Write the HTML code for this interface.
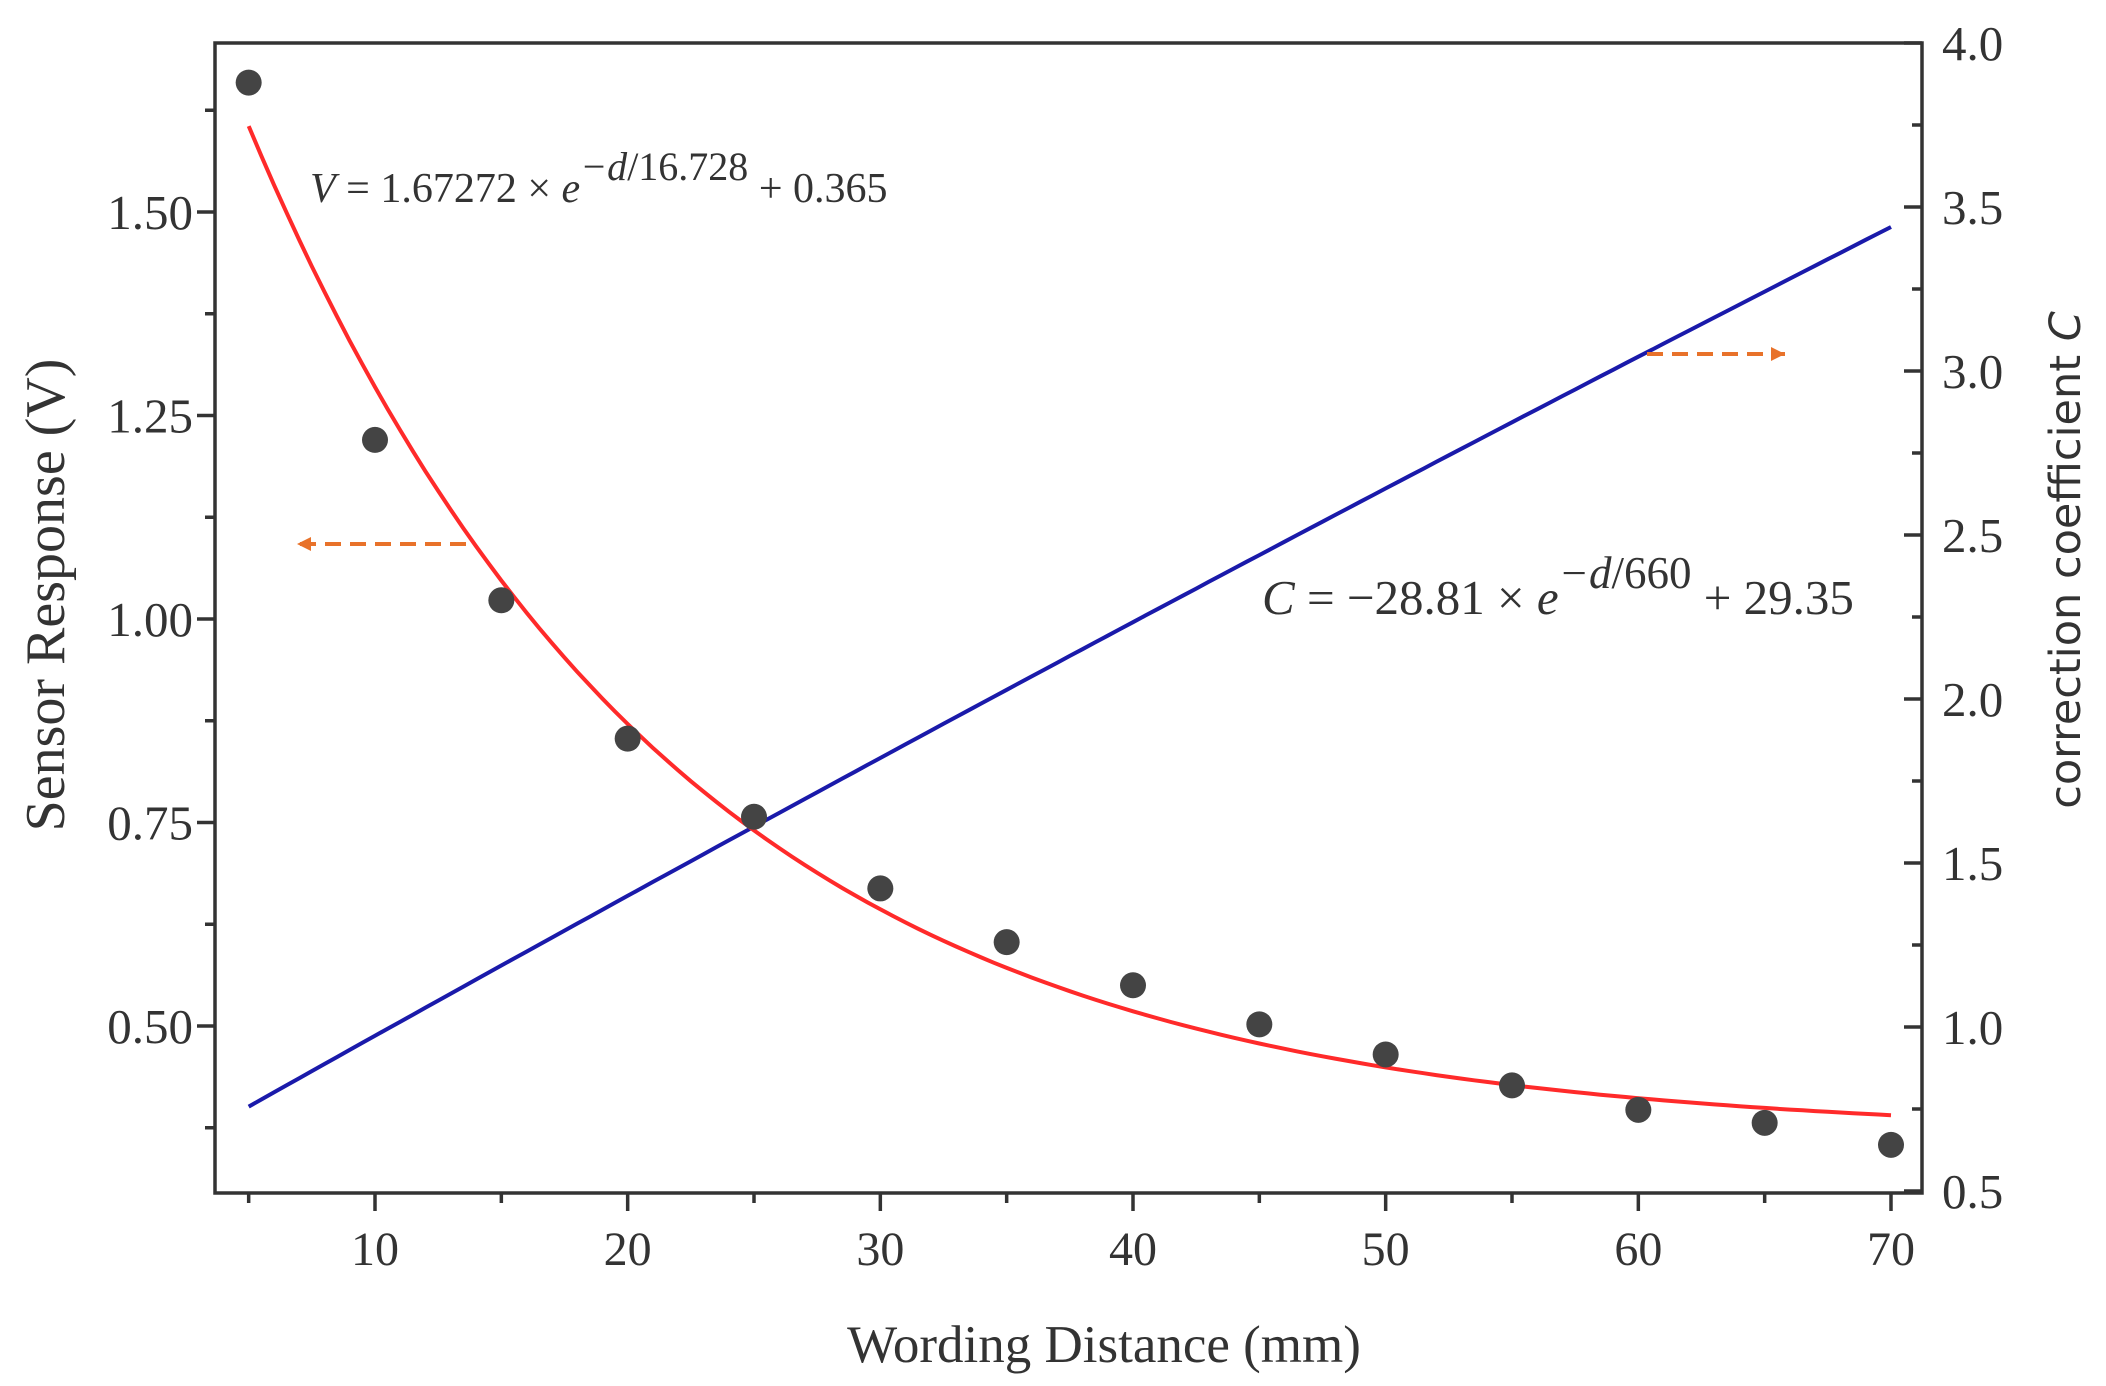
<!DOCTYPE html>
<html><head><meta charset="utf-8"><style>
html,body{margin:0;padding:0;background:#fff;}
svg{display:block;}
text{font-family:"Liberation Serif",serif;fill:#333;}
</style></head><body>
<svg id="chart" width="2106" height="1386" viewBox="0 0 2106 1386" xmlns="http://www.w3.org/2000/svg">
</svg>
<script>
const distances=[5,10,15,20,25,30,35,40,45,50,55,60,65,70];
const responses=[1.659,1.220,1.023,0.853,0.757,0.669,0.603,0.550,0.502,0.465,0.427,0.397,0.381,0.354];
const vFit=[1.67272,16.728,0.365];
const cFit=[-28.81,660,29.35];
const xTicks=[10,20,30,40,50,60,70];
const xMinor=[5,15,25,35,45,55,65];
const yLeftTicks=[0.50,0.75,1.00,1.25,1.50];
const yLeftMinor=[0.375,0.625,0.875,1.125,1.375,1.625];
const yRightTicks=[0.5,1.0,1.5,2.0,2.5,3.0,3.5,4.0];
const yRightMinor=[0.75,1.25,1.75,2.25,2.75,3.25,3.75];

const L=215,R=1922,T=43,B=1193;
const xs=d=>375+(d-10)*(1516/60);
const yl=v=>1026-(v-0.5)*(203.5/0.25);
const yr=v=>1191-(v-0.5)*(164/0.5);
const svg=document.getElementById('chart');
const NS='http://www.w3.org/2000/svg';
function mk(tag,attrs,parent){const e=document.createElementNS(NS,tag);for(const k in attrs)e.setAttribute(k,attrs[k]);(parent||svg).appendChild(e);return e;}

let fr=mk('rect',{x:L,y:T,width:R-L,height:B-T,fill:'none',stroke:'#333','stroke-width':3.5});



xTicks.forEach(t=>{
 let l=mk('line',{x1:xs(t),x2:xs(t),y1:B,y2:B+18,stroke:'#333','stroke-width':3.5});
 
 
 let tx=mk('text',{x:xs(t),y:B+72,'font-size':48,'text-anchor':'middle'});tx.textContent=t;
 
 
});
xMinor.forEach(t=>{
 let l=mk('line',{x1:xs(t),x2:xs(t),y1:B,y2:B+10,stroke:'#333','stroke-width':3.5});
 
 
});
yLeftTicks.forEach(t=>{
 let l=mk('line',{x1:L-18,x2:L,y1:yl(t),y2:yl(t),stroke:'#333','stroke-width':3.5});
 
 
 let tx=mk('text',{x:L-22,y:yl(t)+17,'font-size':49,'text-anchor':'end'});tx.textContent=t.toFixed(2);
 
 
});
yLeftMinor.forEach(t=>{
 let l=mk('line',{x1:L-10,x2:L,y1:yl(t),y2:yl(t),stroke:'#333','stroke-width':3.5});
 
 
});
yRightTicks.forEach(t=>{
 let l=mk('line',{x1:R-18,x2:R,y1:yr(t),y2:yr(t),stroke:'#333','stroke-width':3.5});
 
 
 let tx=mk('text',{x:R+20,y:yr(t)+17,'font-size':49,'text-anchor':'start'});tx.textContent=t.toFixed(1);
 
 
});
yRightMinor.forEach(t=>{
 let l=mk('line',{x1:R-10,x2:R,y1:yr(t),y2:yr(t),stroke:'#333','stroke-width':3.5});
 
 
});

let bp=[];for(let d=5;d<=70;d+=0.5){bp.push(xs(d).toFixed(1)+','+yr(cFit[0]*Math.exp(-d/cFit[1])+cFit[2]).toFixed(1));}
let bl=mk('polyline',{points:bp.join(' '),fill:'none',stroke:'#1a1aaa','stroke-width':4});



let rp=[];for(let d=5;d<=70;d+=0.5){rp.push(xs(d).toFixed(1)+','+yl(vFit[0]*Math.exp(-d/vFit[1])+vFit[2]).toFixed(1));}
let rl=mk('polyline',{points:rp.join(' '),fill:'none',stroke:'#ff2a2a','stroke-width':4});



distances.forEach((d,i)=>{
 let c=mk('circle',{cx:xs(d),cy:yl(responses[i]),r:13,fill:'#444'});
 
 
});

function arrow(x1,x2,y,name){
 let g=mk('g',{});
 
 
 mk('line',{x1:x1,x2:x2,y1:y,y2:y,stroke:'#e8722a','stroke-width':4,'stroke-dasharray':'16,9'},g);
 const dir=x2>x1?1:-1;
 mk('polygon',{points:`${x2},${y} ${x2-dir*14},${y-7} ${x2-dir*14},${y+7}`,fill:'#e8722a'},g);
}
arrow(466,297,544,'left-axis-arrow');
arrow(1647,1785,354,'right-axis-arrow');

let e1=mk('text',{x:310,y:202,'font-size':42});


e1.innerHTML='<tspan font-style="italic">V</tspan> = 1.67272 × <tspan font-style="italic">e</tspan><tspan dy="-22" font-size="40"><tspan font-style="italic">−d</tspan>/16.728</tspan><tspan dy="22"> + 0.365</tspan>';
let e2=mk('text',{x:1262,y:614,'font-size':49});


e2.innerHTML='<tspan font-style="italic">C</tspan> = −28.81 × <tspan font-style="italic">e</tspan><tspan dy="-26" font-size="45"><tspan font-style="italic">−d</tspan>/660</tspan><tspan dy="26"> + 29.35</tspan>';

let xt=mk('text',{x:1104,y:1362,'font-size':53,'text-anchor':'middle'});xt.textContent='Wording Distance (mm)';


let ytl=mk('text',{x:0,y:0,'font-size':56,'text-anchor':'middle',transform:'translate(64,595) rotate(-90)'});ytl.textContent='Sensor Response (V)';


let ytr=mk('text',{x:0,y:0,'font-size':43,'text-anchor':'middle',transform:'translate(2080,560) rotate(-90)',style:'font-family:"DejaVu Sans","Liberation Sans",sans-serif'});
ytr.innerHTML='correction coefficient <tspan font-style="italic">C</tspan>';


</script>
</body></html>
